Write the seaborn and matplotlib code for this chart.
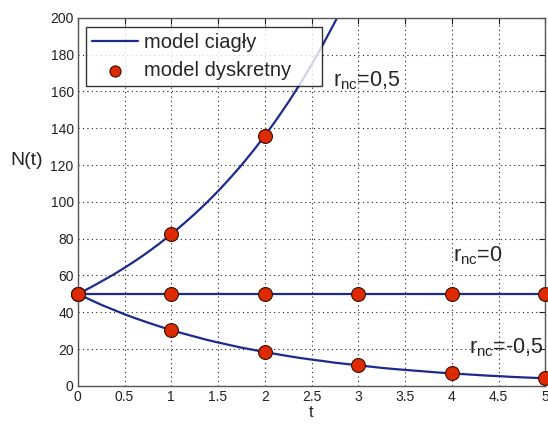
import matplotlib
matplotlib.use("Agg")
import matplotlib.pyplot as plt
import seaborn as sns

# continuous model curves
t_pos = [0, 0.125, 0.25, 0.375, 0.5, 0.625, 0.75, 0.875, 1, 1.125, 1.25, 1.375, 1.5,
         1.625, 1.75, 1.875, 2, 2.125, 2.25, 2.375, 2.5, 2.625, 2.75, 2.875, 3]
n_pos = [50, 53.2, 56.7, 60.3, 64.2, 68.3, 72.7, 77.4, 82.4, 87.8, 93.4, 99.4, 105.8,
         112.7, 119.9, 127.7, 135.9, 144.7, 154.0, 163.9, 174.5, 185.8, 197.7, 210.5, 224.1]
t_flat = [0, 5]
n_zero = [50, 50]
t_neg = [0, 0.125, 0.25, 0.375, 0.5, 0.625, 0.75, 0.875, 1, 1.125, 1.25, 1.375, 1.5,
         1.625, 1.75, 1.875, 2, 2.125, 2.25, 2.375, 2.5, 2.625, 2.75, 2.875, 3,
         3.125, 3.25, 3.375, 3.5, 3.625, 3.75, 3.875, 4, 4.125, 4.25, 4.375, 4.5,
         4.625, 4.75, 4.875, 5]
n_neg = [50, 47.0, 44.1, 41.5, 38.9, 36.6, 34.4, 32.3, 30.3, 28.5, 26.8, 25.1, 23.6,
         22.2, 20.8, 19.6, 18.4, 17.3, 16.2, 15.2, 14.3, 13.5, 12.6, 11.9, 11.2,
         10.5, 9.8, 9.2, 8.7, 8.2, 7.7, 7.2, 6.8, 6.4, 6.0, 5.6, 5.3,
         4.95, 4.65, 4.4, 4.1]

# discrete model points
t_disc = [0, 1, 2, 3, 4, 5]
d_pos = [50, 82.4, 135.9]
d_zero = [50, 50, 50, 50, 50, 50]
d_neg = [50, 30.3, 18.4, 11.2, 6.8, 4.1]

xticks = [0, 0.5, 1, 1.5, 2, 2.5, 3, 3.5, 4, 4.5, 5]
xticklabels = ["0", "0.5", "1", "1.5", "2", "2.5", "3", "3.5", "4", "4.5", "5"]
yticks = [0, 20, 40, 60, 80, 100, 120, 140, 160, 180, 200]

sns.set_style("white")
plt.rcParams['font.family'] = ['Liberation Sans', 'DejaVu Sans']
plt.rcParams['mathtext.fontset'] = 'custom'
plt.rcParams['mathtext.rm'] = 'Liberation Sans'

fig = plt.figure(figsize=(5.48, 4.25), dpi=100)
ax = fig.add_axes([0.142, 0.092, 0.853, 0.866])

line_color = "#1c2a8e"
dot_color = "#dd2a00"

curves = [(t_pos, n_pos), (t_flat, n_zero), (t_neg, n_neg)]
for i, (tt, nn) in enumerate(curves):
    sns.lineplot(x=tt, y=nn, ax=ax, color=line_color, linewidth=1.6,
                 label="model ciagły" if i == 0 else None, legend=False)

points = [(t_disc[:len(d_pos)], d_pos), (t_disc, d_zero), (t_disc, d_neg)]
for i, (tt, nn) in enumerate(points):
    sns.scatterplot(x=tt, y=nn, ax=ax, color=dot_color, s=100, edgecolor="#3a1000",
                    linewidth=0.8, zorder=5, clip_on=False,
                    label="model dyskretny" if i == 0 else None, legend=False)

ax.set_xlim(0, 5)
ax.set_ylim(0, 200)
ax.set_xticks(xticks)
ax.set_xticklabels(xticklabels)
ax.set_yticks(yticks)
ax.tick_params(direction="in", length=4, labelsize=10, colors="#222222", pad=3,
               top=True, right=True)
ax.grid(True, linestyle=(0, (1, 3)), color="#222222", linewidth=0.8)
for sp in ax.spines.values():
    sp.set_color("#555555")
    sp.set_linewidth(1.0)

ax.set_xlabel("t", fontsize=12, labelpad=1)
ax.set_ylabel("N(t)", fontsize=14, rotation=0)
ax.yaxis.set_label_coords(-0.11, 0.59)

ax.text(2.73, 166, r"r$_{\mathrm{nc}}$=0,5", fontsize=15.5, va="center")
ax.text(4.01, 71, r"r$_{\mathrm{nc}}$=0", fontsize=15.5, va="center")
ax.text(4.18, 21, r"r$_{\mathrm{nc}}$=-0,5", fontsize=15.5, va="center")

leg = ax.legend(loc="upper left", fontsize=14.5, frameon=True, fancybox=False,
                edgecolor="black", borderpad=0.3, handlelength=2.3, labelspacing=0.45,
                handletextpad=0.3, markerscale=0.8, mode="expand",
                bbox_to_anchor=(0.017, 0.0, 0.505, 0.976), borderaxespad=0.0)
leg.get_frame().set_linewidth(1.0)

fig.savefig("out.png", dpi=100)
